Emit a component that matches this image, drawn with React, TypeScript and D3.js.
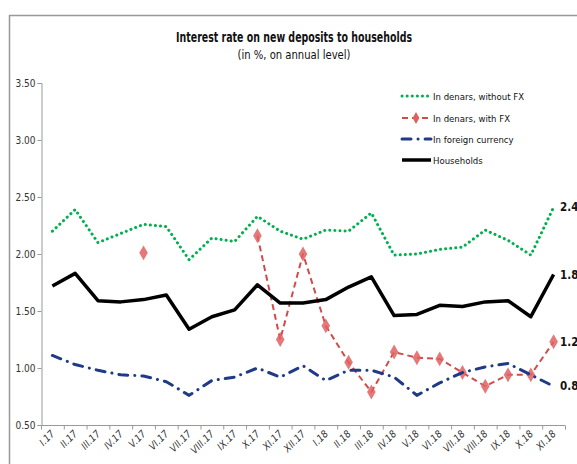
import * as d3 from "d3";
import { useEffect, useRef } from "react";

const months = [
  "I.17", "II.17", "III.17", "IV.17", "V.17", "VI.17", "VII.17", "VIII.17", "IX.17", "X.17", "XI.17", "XII.17",
  "I.18", "II.18", "III.18", "IV.18", "V.18", "VI.18", "VII.18", "VIII.18", "IX.18", "X.18", "XI.18",
];

const denarsNoFx = [2.2, 2.39, 2.1, 2.18, 2.26, 2.24, 1.95, 2.14, 2.11, 2.33, 2.2, 2.13, 2.21, 2.2, 2.36, 1.99, 2.0, 2.04, 2.06, 2.21, 2.12, 1.99, 2.41];
const denarsFx: (number | null)[] = [null, null, null, null, 2.01, null, null, null, null, 2.16, 1.25, 2.0, 1.37, 1.05, 0.79, 1.14, 1.09, 1.08, 0.96, 0.84, 0.94, 0.94, 1.23];
const foreign = [1.11, 1.03, 0.98, 0.94, 0.93, 0.88, 0.76, 0.89, 0.92, 1.0, 0.92, 1.02, 0.89, 0.98, 0.98, 0.92, 0.76, 0.87, 0.96, 1.01, 1.04, 0.94, 0.84];
const households = [1.72, 1.83, 1.59, 1.58, 1.6, 1.64, 1.34, 1.45, 1.51, 1.73, 1.57, 1.57, 1.6, 1.71, 1.8, 1.46, 1.47, 1.55, 1.54, 1.58, 1.59, 1.45, 1.82];

const yTicks = [0.5, 1.0, 1.5, 2.0, 2.5, 3.0, 3.5];

type Series = {
  name: string;
  values: (number | null)[];
  color: string;
  width: number;
  dash: string | null;
  cap: string;
  markers: boolean;
};

const series: Series[] = [
  { name: "In denars, without FX", values: denarsNoFx, color: "#00b050", width: 3, dash: "0.1 5", cap: "round", markers: false },
  { name: "In denars, with FX", values: denarsFx, color: "#d24b4b", width: 2, dash: "6 4", cap: "butt", markers: true },
  { name: "In foreign currency", values: foreign, color: "#1f3a86", width: 3, dash: "9 7 0.1 7", cap: "round", markers: false },
  { name: "Households", values: households, color: "#000000", width: 3.5, dash: null, cap: "butt", markers: false },
];

const FONT = "'DejaVu Sans Condensed', 'DejaVu Sans', sans-serif";

export default function App() {
  const svgRef = useRef<SVGSVGElement | null>(null);

  useEffect(() => {
    if (!svgRef.current) return;
    const svg = d3.select(svgRef.current);
    svg.selectAll("*").remove();

    const width = 577;
    const height = 464;
    const plot = { left: 41, right: 565, top: 83, bottom: 425 };

    svg.attr("width", width).attr("height", height);

    // frame
    svg.append("path")
      .attr("d", `M9.5,${height} L9.5,15.5 L${width},15.5`)
      .attr("fill", "none")
      .attr("stroke", "#999")
      .attr("stroke-width", 1.5);

    svg.append("text")
      .attr("x", 294)
      .attr("y", 42)
      .attr("text-anchor", "middle")
      .attr("font-family", FONT)
      .attr("font-size", 13.5)
      .attr("font-weight", 700)
      .attr("textLength", 236)
      .attr("lengthAdjust", "spacingAndGlyphs")
      .attr("fill", "#111")
      .text("Interest rate on new deposits to households");

    svg.append("text")
      .attr("x", 294)
      .attr("y", 59)
      .attr("text-anchor", "middle")
      .attr("font-family", FONT)
      .attr("font-size", 12)
      .attr("textLength", 113)
      .attr("lengthAdjust", "spacingAndGlyphs")
      .attr("fill", "#111")
      .text("(in %, on annual level)");

    const x = d3.scaleBand<string>().domain(months).range([plot.left, plot.right]);
    const y = d3.scaleLinear().domain([0.5, 3.5]).range([plot.bottom, plot.top]);

    // y axis
    const yAxis = svg.append("g")
      .attr("transform", `translate(${plot.left + 0.5},0)`)
      .call(d3.axisLeft(y).tickValues(yTicks).tickSize(4).tickFormat((d) => d3.format(".2f")(d as number)));
    yAxis.select(".domain").attr("stroke", "#999");
    yAxis.selectAll(".tick line").attr("stroke", "#999");
    yAxis.selectAll(".tick text")
      .attr("font-family", FONT)
      .attr("font-size", 10)
      .attr("fill", "#333")
      .attr("x", -6);

    // x axis
    const xAxis = svg.append("g").attr("transform", `translate(0,${plot.bottom + 0.5})`);
    xAxis.append("line")
      .attr("x1", plot.left).attr("x2", plot.right)
      .attr("stroke", "#999");
    xAxis.selectAll("line.tick")
      .data(months.concat(["end"]))
      .join("line")
      .attr("class", "tick")
      .attr("x1", (_, i) => plot.left + i * x.step() + 0.5)
      .attr("x2", (_, i) => plot.left + i * x.step() + 0.5)
      .attr("y1", 0)
      .attr("y2", 4)
      .attr("stroke", "#999");
    xAxis.selectAll("text")
      .data(months)
      .join("text")
      .attr("transform", (d) => `translate(${(x(d) ?? 0) + x.bandwidth() / 2 + 3},${9}) rotate(-45)`)
      .attr("text-anchor", "end")
      .attr("font-family", FONT)
      .attr("font-size", 10)
      .attr("font-style", "italic")
      .attr("fill", "#333")
      .text((d) => d);

    const cx = (i: number) => (x(months[i]) ?? 0) + x.bandwidth() / 2;

    const line = d3.line<number | null>()
      .defined((v) => v !== null)
      .x((_, i) => cx(i))
      .y((v) => y(v as number));

    const lines = svg.append("g");
    series.forEach((s) => {
      lines.append("path")
        .datum(s.values)
        .attr("d", line)
        .attr("fill", "none")
        .attr("stroke", s.color)
        .attr("stroke-width", s.width)
        .attr("stroke-linecap", s.cap)
        .attr("stroke-linejoin", "round")
        .attr("stroke-dasharray", s.dash);
      if (s.markers) {
        lines.selectAll(null)
          .data(s.values.map((v, i) => ({ v, i })).filter((d) => d.v !== null))
          .join("path")
          .attr("d", d3.symbol().type(d3.symbolDiamond).size(64)())
          .attr("transform", (d) => `translate(${cx(d.i)},${y(d.v as number)})`)
          .attr("fill", "#e06060")
          .attr("fill-opacity", 0.85);
      }
    });

    // end labels
    svg.append("g")
      .selectAll("text")
      .data(series)
      .join("text")
      .attr("x", 560)
      .attr("y", (s) => y(s.values[s.values.length - 1] as number) + 4)
      .attr("font-family", FONT)
      .attr("font-size", 11.5)
      .attr("font-weight", 700)
      .attr("fill", "#111")
      .text((s) => d3.format(".1f")(s.values[s.values.length - 1] as number));

    // legend
    const legend = svg.append("g");
    const rows = [96, 118, 139, 160];
    series.forEach((s, i) => {
      const ly = rows[i];
      legend.append("line")
        .attr("x1", 402).attr("x2", 431)
        .attr("y1", ly).attr("y2", ly)
        .attr("stroke", s.color)
        .attr("stroke-width", s.width)
        .attr("stroke-linecap", s.cap)
        .attr("stroke-dasharray", s.dash);
      if (s.markers) {
        legend.append("path")
          .attr("d", d3.symbol().type(d3.symbolDiamond).size(40)())
          .attr("transform", `translate(416,${ly})`)
          .attr("fill", "#e06060");
      }
      legend.append("text")
        .attr("x", 433)
        .attr("y", ly + 4)
        .attr("font-family", FONT)
        .attr("font-size", 9.5)
        .attr("fill", "#111")
        .text(s.name);
    });
  }, []);

  return (
    <svg
      ref={svgRef}
      style={{ position: "absolute", left: 0, top: 0, background: "#fff" }}
    />
  );
}
